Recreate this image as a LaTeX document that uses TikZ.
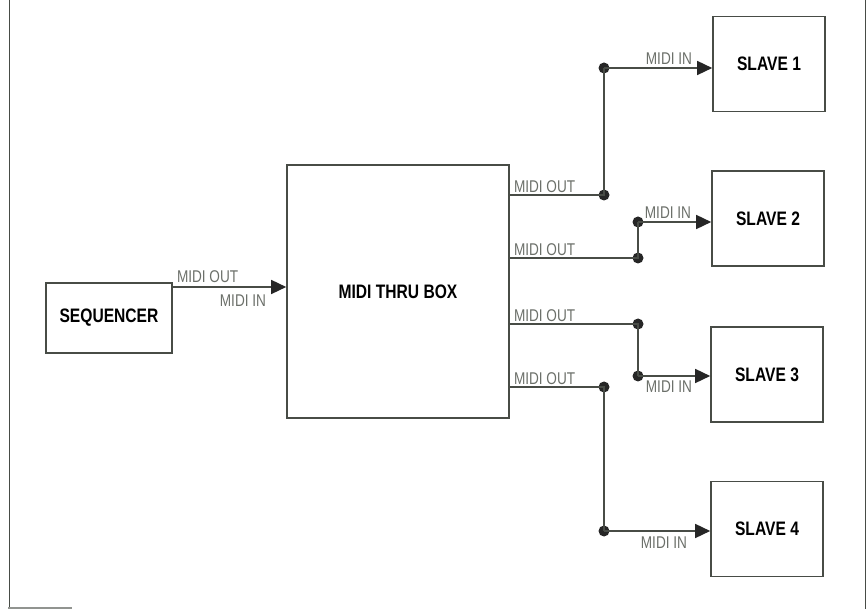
\documentclass[tikz,border=0pt]{standalone}
\usepackage{fontspec}
\setmainfont{Liberation Sans}[FakeStretch=0.8]
\usetikzlibrary{arrows.meta,positioning}
\definecolor{wirecol}{RGB}{72,76,70}
\definecolor{lblcol}{RGB}{108,112,106}

\begin{document}
\begin{tikzpicture}[x=1pt, y=-1pt,
  box/.style={rectangle, draw=wirecol, line width=1.6pt, inner sep=0pt, align=center,
              font=\fontsize{19.5}{19.5}\selectfont\bfseries},
  slave/.style={box, minimum width=112pt, minimum height=95pt},
  wire/.style={draw=wirecol, line width=1.5pt},
  arr/.style={wire, -{Triangle[length=15pt,width=14pt,color=black!85,fill=black!85]}},
  dot/.style={circle, fill=black!85, inner sep=0pt, minimum size=11pt},
  lab/.style={font=\fontsize{17}{17}\selectfont, text=lblcol, inner sep=1pt}]
\useasboundingbox (0,0) rectangle (868,609);
% page frame
\draw[wirecol, line width=1.5pt] (9.5,0) -- (9.5,609);
\draw[wirecol, line width=1.5pt] (865.5,0) -- (865.5,609);
\draw[wirecol!60, line width=1.5pt] (8,608) -- (72,608);

\node[box, minimum width=126pt, minimum height=70pt] (seq) at (109,318) {SEQUENCER};
\node[box, minimum width=222pt, minimum height=253pt] (thru) at (398,291.5) {MIDI THRU BOX};
\node[slave] (s1) at (769,64) {SLAVE 1};
\node[slave] (s2) at (768,218.5) {SLAVE 2};
\node[slave] (s3) at (767,374.5) {SLAVE 3};
\node[slave] (s4) at (767,529) {SLAVE 4};

% sequencer to thru box
\coordinate (sqo) at (seq.east |- 0,287);
\draw[arr] (sqo) -- (sqo -| thru.west);
\node[lab, anchor=south west, xshift=3pt, yshift=3pt] at (sqo) {MIDI OUT};
\node[lab, anchor=north east, xshift=-19pt, yshift=-7pt] at (sqo -| thru.west) {MIDI IN};

% thru box outputs
\coordinate (o1) at (thru.east |- 0,195);
\coordinate (o2) at (thru.east |- 0,258);
\coordinate (o3) at (thru.east |- 0,324);
\coordinate (o4) at (thru.east |- 0,387);
\node[dot] (j1a) at (604,195) {};
\node[dot] (j1b) at (604,68) {};
\node[dot] (j2a) at (638,258) {};
\node[dot] (j2b) at (638,222) {};
\node[dot] (j3a) at (638,324) {};
\node[dot] (j3b) at (638,376) {};
\node[dot] (j4a) at (604,387) {};
\node[dot] (j4b) at (604,531) {};

\draw[wire] (o1) -- (j1a.center) -- (j1b.center);
\draw[wire] (o2) -- (j2a.center) -- (j2b.center);
\draw[wire] (o3) -- (j3a.center) -- (j3b.center);
\draw[wire] (o4) -- (j4a.center) -- (j4b.center);
\draw[arr] (j1b.center) -- (j1b -| s1.west);
\draw[arr] (j2b.center) -- (j2b -| s2.west);
\draw[arr] (j3b.center) -- (j3b -| s3.west);
\draw[arr] (j4b.center) -- (j4b -| s4.west);

\foreach \o in {o1,o2,o3,o4}
  \node[lab, anchor=south west, xshift=3pt, yshift=1pt] at (\o) {MIDI OUT};
\node[lab, anchor=south east, xshift=-19pt, yshift=2pt] at (j1b -| s1.west) {MIDI IN};
\node[lab, anchor=south east, xshift=-19pt, yshift=2pt] at (j2b -| s2.west) {MIDI IN};
\node[lab, anchor=north east, xshift=-17pt, yshift=-4pt] at (j3b -| s3.west) {MIDI IN};
\node[lab, anchor=north east, xshift=-22pt, yshift=-5pt] at (j4b -| s4.west) {MIDI IN};
\end{tikzpicture}
\end{document}
